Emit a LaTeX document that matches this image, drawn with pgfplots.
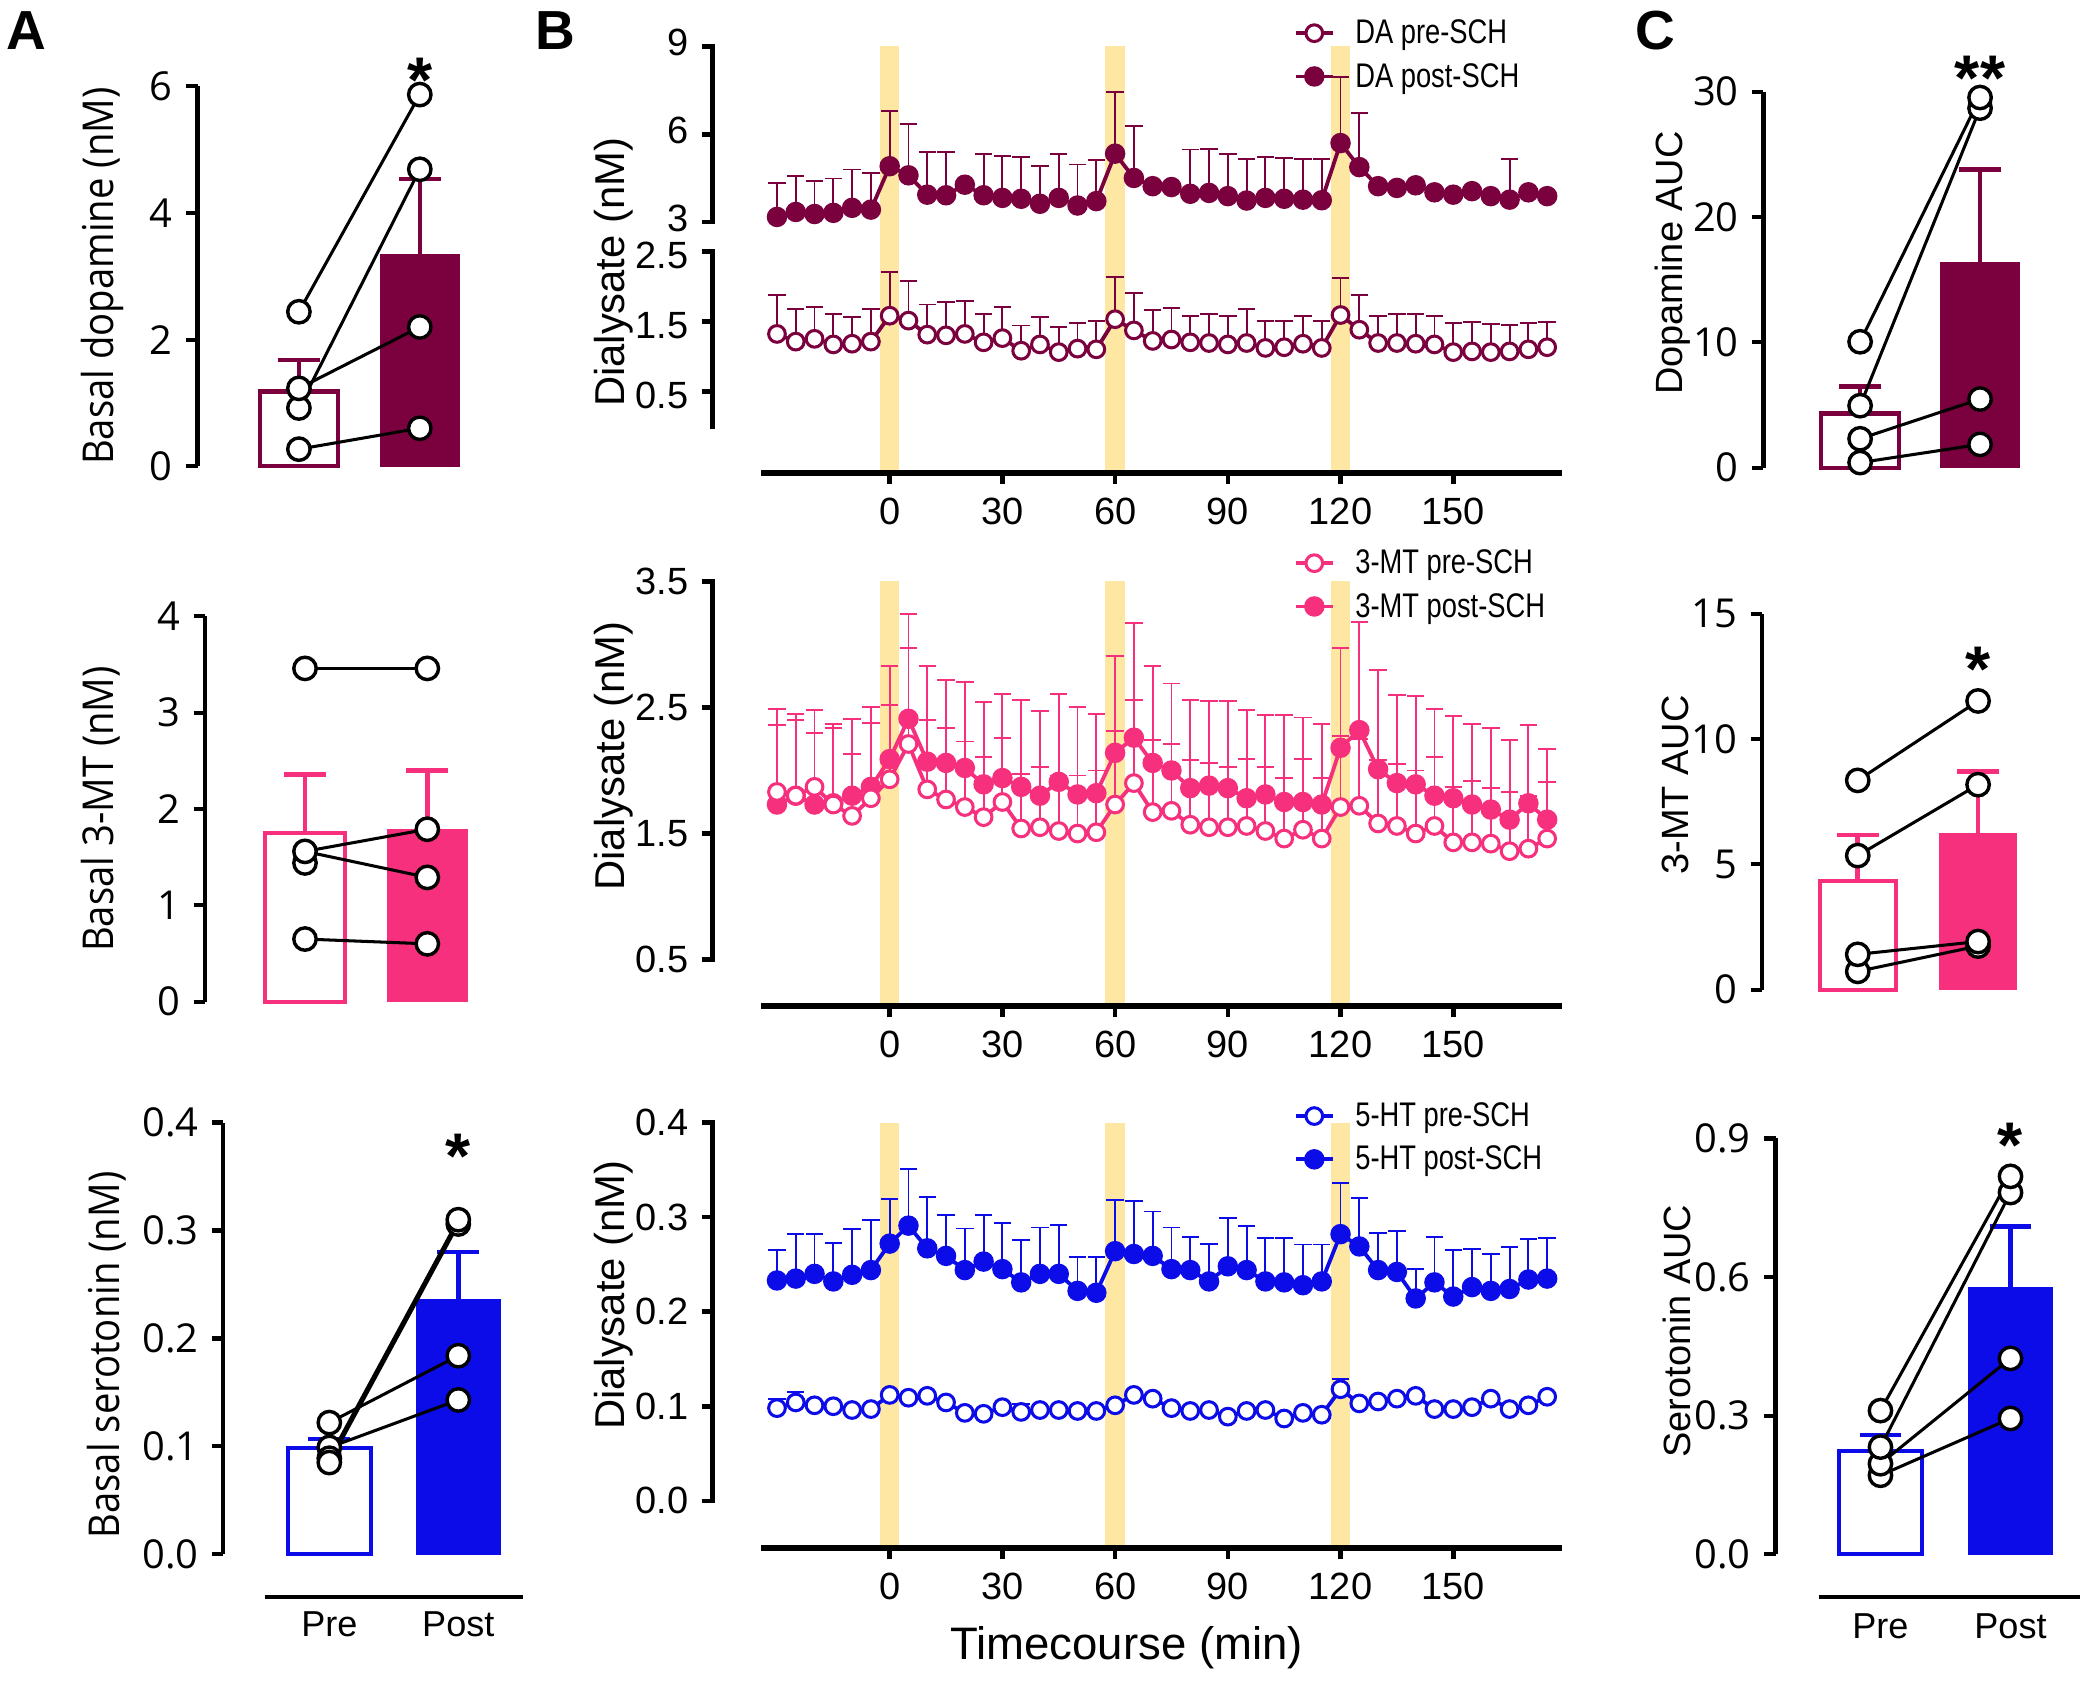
\documentclass[border=0pt]{standalone}
\usepackage{fontspec}
\setmainfont{Liberation Sans}
\newfontfamily\osans[FakeStretch=0.9]{Open Sans}
\newfontfamily\otick{Open Sans}
\newfontfamily\narrowfont[FakeStretch=0.8]{Liberation Sans}
\usepackage{pgfplots}
\usepackage{pgfplotstable}
\pgfplotsset{compat=1.18}

\definecolor{cda}{RGB}{123,0,62}
\definecolor{cmt}{RGB}{246,48,125}
\definecolor{cht}{RGB}{12,12,232}
\definecolor{band}{RGB}{254,231,163}

\pgfplotstableread{
t pre epre post epost
-30 1.32 0.55 3.18 1.16
-25 1.21 0.46 3.35 1.24
-20 1.25 0.45 3.28 1.12
-15 1.17 0.43 3.32 1.17
-10 1.18 0.38 3.49 1.31
-5 1.21 0.47 3.43 1.25
0 1.58 0.63 4.91 1.87
5 1.51 0.57 4.60 1.76
10 1.31 0.43 3.94 1.45
15 1.30 0.47 3.92 1.47
20 1.32 0.47 4.28 0
25 1.20 0.40 3.92 1.41
30 1.26 0.44 3.83 1.44
35 1.08 0.36 3.80 1.43
40 1.17 0.39 3.63 1.30
45 1.06 0.36 3.83 1.50
50 1.11 0.37 3.57 1.40
55 1.10 0.40 3.72 1.39
60 1.53 0.60 5.34 2.09
65 1.37 0.53 4.51 1.76
70 1.22 0.44 4.23 0
75 1.24 0.45 4.20 0
80 1.20 0.38 3.97 1.51
85 1.19 0.42 4.00 1.50
90 1.17 0.41 3.89 1.44
95 1.19 0.48 3.74 1.43
100 1.12 0.39 3.83 1.40
105 1.13 0.38 3.80 1.39
110 1.18 0.39 3.77 1.40
115 1.12 0.38 3.75 1.41
120 1.59 0.53 5.70 2.24
125 1.38 0.49 4.88 1.85
130 1.19 0.39 4.23 0
135 1.19 0.41 4.17 0
140 1.18 0.43 4.26 0
145 1.17 0.41 4.02 0
150 1.06 0.42 3.94 0
155 1.07 0.42 4.06 0
160 1.06 0.40 3.89 0
165 1.07 0.38 3.77 1.40
170 1.10 0.37 4.02 0
175 1.13 0.36 3.89 0
}\datDA

\pgfplotstableread{
t pre epre post epost
-30 1.83 0.53 1.73 0.76
-25 1.80 0.60 1.80 0.65
-20 1.87 0.43 1.73 0.75
-15 1.73 0.61 1.74 0.63
-10 1.64 0.49 1.80 0.61
-5 1.78 0.60 1.87 0.63
0 1.93 0.59 2.09 0.74
5 2.21 0.76 2.41 0.83
10 1.85 0.55 2.07 0.76
15 1.77 0.57 2.06 0.66
20 1.71 0.52 2.02 0.68
25 1.63 0.48 1.89 0.65
30 1.75 0.51 1.94 0.67
35 1.54 0.43 1.87 0.69
40 1.55 0.48 1.80 0.67
45 1.52 0.44 1.91 0.70
50 1.50 0.46 1.81 0.69
55 1.51 0.49 1.82 0.63
60 1.73 0.58 2.14 0.77
65 1.90 0.66 2.26 0.91
70 1.67 0.57 2.06 0.77
75 1.68 0.53 2.00 0.69
80 1.57 0.51 1.86 0.70
85 1.55 0.51 1.88 0.67
90 1.55 0.48 1.86 0.69
95 1.56 0.53 1.78 0.70
100 1.52 0.51 1.81 0.63
105 1.46 0.48 1.75 0.69
110 1.53 0.56 1.75 0.67
115 1.46 0.48 1.73 0.64
120 1.71 0.56 2.18 0.79
125 1.72 0.53 2.32 0.86
130 1.58 0.50 2.01 0.79
135 1.56 0.49 1.90 0.70
140 1.50 0.50 1.89 0.70
145 1.56 0.55 1.80 0.69
150 1.43 0.44 1.78 0.65
155 1.43 0.49 1.73 0.64
160 1.42 0.44 1.69 0.65
165 1.36 0.47 1.61 0.63
170 1.38 0.42 1.74 0.62
175 1.46 0.45 1.61 0.56
}\datMT

\pgfplotstableread{
t pre epre post epost
-30 0.098 0.010 0.233 0.032
-25 0.104 0.011 0.235 0.047
-20 0.101 0 0.240 0.042
-15 0.100 0 0.232 0.041
-10 0.096 0 0.239 0.048
-5 0.097 0 0.244 0.053
0 0.112 0 0.272 0.047
5 0.109 0 0.291 0.060
10 0.111 0 0.267 0.054
15 0.104 0 0.259 0.043
20 0.093 0 0.244 0.044
25 0.092 0 0.253 0.049
30 0.099 0 0.245 0.049
35 0.094 0.008 0.231 0.045
40 0.096 0 0.240 0.049
45 0.096 0 0.240 0.052
50 0.095 0 0.222 0.036
55 0.095 0 0.220 0.038
60 0.101 0 0.264 0.054
65 0.112 0 0.261 0.056
70 0.108 0 0.259 0.047
75 0.098 0 0.245 0.044
80 0.095 0 0.244 0.035
85 0.096 0 0.232 0.040
90 0.089 0 0.248 0.051
95 0.095 0 0.244 0.047
100 0.096 0 0.232 0.046
105 0.087 0 0.231 0.047
110 0.093 0 0.228 0.043
115 0.091 0 0.232 0.039
120 0.118 0.011 0.282 0.054
125 0.103 0 0.269 0.051
130 0.105 0 0.244 0.039
135 0.108 0 0.242 0.043
140 0.111 0 0.214 0.031
145 0.097 0 0.231 0.048
150 0.097 0 0.216 0.049
155 0.099 0 0.226 0.040
160 0.108 0 0.222 0.039
165 0.097 0 0.224 0.044
170 0.101 0 0.234 0.043
175 0.110 0 0.235 0.043
}\datHT

\pgfplotsset{
  bpan/.style={scale only axis, clip=false, width=224.2pt, xmin=-47.1, xmax=179.4,
    axis line style={draw=none}, xtick pos=left, ytick pos=left, tick align=outside,
    major tick length=2.9pt, tick style={line width=1.2pt, black},
    xtick={0,30,60,90,120,150},
    tick label style={font=\fontsize{10}{10}\selectfont},
    yticklabel style={inner ysep=0pt},
    /pgf/number format/assume math mode=true,
    legend image code/.code={\draw[mark repeat=2,mark phase=2,##1] plot coordinates {(0pt,0pt) (4.8pt,0pt) (9.6pt,0pt)};},
    legend style={draw=none, fill=none, anchor=north west, inner sep=0pt, row sep=3.2pt,
      /tikz/column sep=5pt, font=\narrowfont\fontsize{9}{9}\selectfont,
      nodes={inner sep=0.5pt, text height=6.4pt, text depth=0.8pt}},
    legend cell align=left},
  postS/.style={#1, line width=1pt, mark=*, mark size=2.5pt, mark options={solid, fill=#1, draw=#1, line width=0.4pt}},
  preS/.style={#1, line width=1pt, mark=*, mark size=2.2pt, mark options={solid, fill=white, draw=#1, line width=0.8pt}},
  ebar/.style={error bars/y dir=plus, error bars/y explicit, error bars/error bar style={line width=0.5pt},
    error bars/error mark options={rotate=90, mark size=2.3pt, line width=0.5pt}},
  barpan/.style={scale only axis, clip=false, axis y line*=left, axis x line=none,
    axis line style={line width=1.1pt}, tick align=outside, major tick length=3pt,
    tick style={line width=1.1pt, black}, xtick=\empty,
    yticklabel style={font=\otick\fontsize{10.5}{10.5}\selectfont, inner ysep=0pt},
    /pgf/number format/assume math mode=true},
  barerr/.style={error bars/y dir=plus, error bars/y explicit, error bars/error bar style={line width=1.2pt, #1},
    error bars/error mark options={rotate=90, mark size=5.5pt, line width=1.2pt, #1}},
  pline/.style={black, line width=0.8pt, no markers},
  dots/.style={only marks, mark=*, mark size=2.95pt, mark options={fill=white, draw=black, line width=0.9pt}},
}
\tikzset{star/.style={font=\fontsize{17}{17}\selectfont\bfseries, anchor=base, yshift=-9.8pt, inner sep=0pt}}

\begin{document}
\begin{tikzpicture}

% ================= Panel B top (lower part: pre) =================
\begin{axis}[bpan, at={(536.5*0.35pt,908.7*0.35pt)}, anchor=south west, height=58.49pt,
  ymin=-0.671, ymax=2.5, ytick={0.5,1.5,2.5}, yticklabels={0.5,1.5,2.5},
  yticklabel style={yshift=-1.1pt}]
\fill[band] (axis cs:-2.6,-0.671) rectangle (axis cs:2.6,5.428);
\fill[band] (axis cs:57.4,-0.671) rectangle (axis cs:62.6,5.428);
\fill[band] (axis cs:117.4,-0.671) rectangle (axis cs:122.6,5.428);
\draw[line width=1.2pt, line cap=rect] (axis cs:-47.1,0) -- (axis cs:-47.1,2.5);
\draw[line width=1.6pt] (axis cs:-34.3,-0.671) -- (axis cs:178.9,-0.671);
\addplot[preS=cda, ebar] table[x=t, y=pre, y error=epre] {\datDA};
\end{axis}
% ================= Panel B top (upper part: post) =================
\begin{axis}[bpan, at={(536.5*0.35pt,1097.7*0.35pt)}, anchor=south west, height=46.34pt,
  ymin=3, ymax=9, ytick={3,6,9}, xtick=\empty, yticklabel style={yshift=1.1pt},
  legend style={at={(0.6824,1.1677)}}]
\draw[line width=1.2pt, line cap=rect] (axis cs:-47.1,3) -- (axis cs:-47.1,9);
\addlegendimage{preS=cda}
\addlegendentry{DA pre-SCH}
\addlegendimage{postS=cda}
\addlegendentry{DA post-SCH}
\addplot[postS=cda, forget plot, ebar] table[x=t, y=post, y error=epost] {\datDA};
\end{axis}

% ================= Panel B middle =================
\begin{axis}[bpan, at={(536.5*0.35pt,507.4*0.35pt)}, anchor=south west, height=112pt,
  ymin=0.129, ymax=3.5, ytick={0.5,1.5,2.5,3.5}, yticklabels={0.5,1.5,2.5,3.5},
  legend style={at={(0.6824,1.081)}}]
\fill[band] (axis cs:-2.6,0.129) rectangle (axis cs:2.6,3.5);
\fill[band] (axis cs:57.4,0.129) rectangle (axis cs:62.6,3.5);
\fill[band] (axis cs:117.4,0.129) rectangle (axis cs:122.6,3.5);
\draw[line width=1.2pt, line cap=rect] (axis cs:-47.1,0.5) -- (axis cs:-47.1,3.5);
\draw[line width=1.6pt] (axis cs:-34.3,0.129) -- (axis cs:178.9,0.129);
\addlegendimage{preS=cmt}
\addlegendentry{3-MT pre-SCH}
\addlegendimage{postS=cmt}
\addlegendentry{3-MT post-SCH}
\addplot[postS=cmt, forget plot, ebar] table[x=t, y=post, y error=epost] {\datMT};
\addplot[preS=cmt, forget plot, ebar] table[x=t, y=pre, y error=epre] {\datMT};
\end{axis}

% ================= Panel B bottom =================
\begin{axis}[bpan, at={(536.5*0.35pt,99.4*0.35pt)}, anchor=south west, height=112.2pt,
  ymin=-0.0504, ymax=0.4, ytick={0,0.1,0.2,0.3,0.4}, yticklabels={0.0,0.1,0.2,0.3,0.4},
  legend style={at={(0.6824,1.0536)}}]
\fill[band] (axis cs:-2.6,-0.0504) rectangle (axis cs:2.6,0.4);
\fill[band] (axis cs:57.4,-0.0504) rectangle (axis cs:62.6,0.4);
\fill[band] (axis cs:117.4,-0.0504) rectangle (axis cs:122.6,0.4);
\draw[line width=1.2pt, line cap=rect] (axis cs:-47.1,0) -- (axis cs:-47.1,0.4);
\draw[line width=1.6pt] (axis cs:-34.3,-0.0504) -- (axis cs:178.9,-0.0504);
\addlegendimage{preS=cht}
\addlegendentry{5-HT pre-SCH}
\addlegendimage{postS=cht}
\addlegendentry{5-HT post-SCH}
\addplot[postS=cht, forget plot, ebar] table[x=t, y=post, y error=epost] {\datHT};
\addplot[preS=cht, forget plot, ebar] table[x=t, y=pre, y error=epre] {\datHT};
\end{axis}

% ================= Panel A top =================
\begin{axis}[barpan, at={(148.7*0.35pt,914*0.35pt)}, anchor=south west, width=74.48pt, height=100.1pt,
  xmin=0.1615, xmax=2.5, ymin=0, ymax=6, ytick={0,2,4,6}]
\addplot[ybar, bar width=0.648, bar shift=0pt, draw=cda, fill=white, line width=1.1pt, barerr=cda] coordinates {(1,1.18) +- (0,0.50)};
\addplot[ybar, bar width=0.648, bar shift=0pt, draw=cda, fill=cda, barerr=cda] coordinates {(2,3.34) +- (0,1.20)};
\addplot[pline] coordinates {(1,2.44) (2,5.87)};
\addplot[pline] coordinates {(1,0.92) (2,4.69)};
\addplot[pline] coordinates {(1,1.23) (2,2.20)};
\addplot[pline] coordinates {(1,0.27) (2,0.60)};
\addplot[dots] coordinates {(1,2.44) (1,0.92) (1,1.23) (1,0.27) (2,5.87) (2,4.69) (2,2.20) (2,0.60)};
\node[star] at (axis cs:2,6.34) {*};
\end{axis}

% ================= Panel A middle =================
\begin{axis}[barpan, at={(154.3*0.35pt,511*0.35pt)}, anchor=south west, width=74.7pt, height=101.5pt,
  xmin=0.1824, xmax=2.5, ymin=0, ymax=4, ytick={0,1,2,3,4}]
\addplot[ybar, bar width=0.654, bar shift=0pt, draw=cmt, fill=white, line width=1.1pt, barerr=cmt] coordinates {(1,1.75) +- (0,0.61)};
\addplot[ybar, bar width=0.654, bar shift=0pt, draw=cmt, fill=cmt, barerr=cmt] coordinates {(2,1.78) +- (0,0.62)};
\addplot[pline] coordinates {(1,3.46) (2,3.46)};
\addplot[pline] coordinates {(1,1.56) (2,1.79)};
\addplot[pline] coordinates {(1,1.56) (2,1.29)};
\addplot[pline] coordinates {(1,0.65) (2,0.60)};
\addplot[dots] coordinates {(1,3.46) (1,1.44) (1,1.56) (1,0.65) (2,3.46) (2,1.79) (2,1.29) (2,0.60)};
\end{axis}

% ================= Panel A bottom =================
\begin{axis}[barpan, at={(168.1*0.35pt,95*0.35pt)}, anchor=south west, width=80.6pt, height=113.75pt,
  xmin=0.178, xmax=2.55, ymin=0, ymax=0.4, ytick={0,0.1,0.2,0.3,0.4}, yticklabels={0.0,0.1,0.2,0.3,0.4}]
\addplot[ybar, bar width=0.646, bar shift=0pt, draw=cht, fill=white, line width=1.1pt, barerr=cht] coordinates {(1,0.0986) +- (0,0.0084)};
\addplot[ybar, bar width=0.646, bar shift=0pt, draw=cht, fill=cht, barerr=cht] coordinates {(2,0.236) +- (0,0.044)};
\addplot[pline] coordinates {(1,0.122) (2,0.184)};
\addplot[pline] coordinates {(1,0.099) (2,0.143)};
\addplot[pline] coordinates {(1,0.089) (2,0.310)};
\addplot[pline] coordinates {(1,0.085) (2,0.306)};
\addplot[dots] coordinates {(1,0.122) (1,0.099) (1,0.089) (1,0.085) (2,0.306) (2,0.310) (2,0.184) (2,0.143)};
\node[star] at (axis cs:2,0.383) {*};
\draw[line width=1.2pt] (axis cs:0.50,-0.0394) -- (axis cs:2.505,-0.0394);
\node[font=\fontsize{9.5}{9.5}\selectfont] at (axis cs:1,-0.0652) {Pre};
\node[font=\fontsize{9.5}{9.5}\selectfont] at (axis cs:2,-0.0652) {Post};
\end{axis}

% ================= Panel C top =================
\begin{axis}[barpan, at={(1327.4*0.35pt,913*0.35pt)}, anchor=south west, width=74.46pt, height=99.05pt,
  xmin=0.194, xmax=2.55, ymin=0, ymax=30, ytick={0,10,20,30}]
\addplot[ybar, bar width=0.653, bar shift=0pt, draw=cda, fill=white, line width=1.1pt, barerr=cda] coordinates {(1,4.31) +- (0,2.17)};
\addplot[ybar, bar width=0.653, bar shift=0pt, draw=cda, fill=cda, barerr=cda] coordinates {(2,16.31) +- (0,7.48)};
\addplot[pline] coordinates {(1,10.04) (2,29.53)};
\addplot[pline] coordinates {(1,4.94) (2,28.68)};
\addplot[pline] coordinates {(1,2.30) (2,5.47)};
\addplot[pline] coordinates {(1,0.40) (2,1.85)};
\addplot[dots] coordinates {(1,10.04) (1,4.94) (1,2.30) (1,0.40) (2,28.68) (2,29.53) (2,5.47) (2,1.85)};
\node[star] at (axis cs:2,32.3) {**};
\end{axis}

% ================= Panel C middle =================
\begin{axis}[barpan, at={(1326.4*0.35pt,520*0.35pt)}, anchor=south west, width=74.35pt, height=99.05pt,
  xmin=0.2053, xmax=2.55, ymin=0, ymax=15, ytick={0,5,10,15}]
\addplot[ybar, bar width=0.63, bar shift=0pt, draw=cmt, fill=white, line width=1.1pt, barerr=cmt] coordinates {(1,4.32) +- (0,1.85)};
\addplot[ybar, bar width=0.63, bar shift=0pt, draw=cmt, fill=cmt, barerr=cmt] coordinates {(2,6.24) +- (0,2.47)};
\addplot[pline] coordinates {(1,8.35) (2,11.52)};
\addplot[pline] coordinates {(1,5.35) (2,8.18)};
\addplot[pline] coordinates {(1,1.41) (2,1.92)};
\addplot[pline] coordinates {(1,0.73) (2,1.74)};
\addplot[dots] coordinates {(1,8.35) (1,5.35) (1,0.73) (1,1.41) (2,11.52) (2,8.18) (2,1.74) (2,1.92)};
\node[star] at (axis cs:2,13.37) {*};
\end{axis}

% ================= Panel C bottom =================
\begin{axis}[barpan, at={(1336.5*0.35pt,95*0.35pt)}, anchor=south west, width=80.76pt, height=109.55pt,
  xmin=0.193, xmax=2.55, ymin=0, ymax=0.9, ytick={0,0.3,0.6,0.9}, yticklabels={0.0,0.3,0.6,0.9}]
\addplot[ybar, bar width=0.64, bar shift=0pt, draw=cht, fill=white, line width=1.1pt, barerr=cht] coordinates {(1,0.224) +- (0,0.034)};
\addplot[ybar, bar width=0.64, bar shift=0pt, draw=cht, fill=cht, barerr=cht] coordinates {(2,0.577) +- (0,0.132)};
\addplot[pline] coordinates {(1,0.311) (2,0.818)};
\addplot[pline] coordinates {(1,0.232) (2,0.783)};
\addplot[pline] coordinates {(1,0.196) (2,0.424)};
\addplot[pline] coordinates {(1,0.171) (2,0.294)};
\addplot[dots] coordinates {(1,0.171) (1,0.196) (1,0.311) (1,0.232) (2,0.783) (2,0.818) (2,0.424) (2,0.294)};
\node[star] at (axis cs:2,0.917) {*};
\draw[line width=1.2pt] (axis cs:0.525,-0.092) -- (axis cs:2.537,-0.092);
\node[font=\fontsize{9.5}{9.5}\selectfont] at (axis cs:1,-0.155) {Pre};
\node[font=\fontsize{9.5}{9.5}\selectfont] at (axis cs:2,-0.155) {Post};
\end{axis}

% ================= Labels =================
\node[rotate=90, font=\osans\fontsize{11.2}{11.2}\selectfont] at (77*0.35pt,1057*0.35pt) {Basal dopamine (nM)};
\node[rotate=90, font=\osans\fontsize{11.2}{11.2}\selectfont] at (76*0.35pt,656*0.35pt) {Basal 3-MT (nM)};
\node[rotate=90, font=\osans\fontsize{11.2}{11.2}\selectfont] at (80*0.35pt,245*0.35pt) {Basal serotonin (nM)};
\node[rotate=90, font=\fontsize{10}{10}\selectfont] at (1259*0.35pt,1067*0.35pt) {Dopamine AUC};
\node[rotate=90, font=\fontsize{10}{10}\selectfont] at (1261*0.35pt,674*0.35pt) {3-MT AUC};
\node[rotate=90, font=\fontsize{10}{10}\selectfont] at (1262*0.35pt,263*0.35pt) {Serotonin AUC};
\node[rotate=90, font=\fontsize{11}{11}\selectfont] at (462*0.35pt,1060*0.35pt) {Dialysate (nM)};
\node[rotate=90, font=\fontsize{11}{11}\selectfont] at (462*0.35pt,696*0.35pt) {Dialysate (nM)};
\node[rotate=90, font=\fontsize{11}{11}\selectfont] at (462*0.35pt,290*0.35pt) {Dialysate (nM)};
\node[font=\fontsize{12}{12}\selectfont] at (848*0.35pt,25*0.35pt) {Timecourse (min)};
\node[font=\fontsize{14.5}{14.5}\selectfont\bfseries] at (19.5*0.35pt,1242*0.35pt) {A};
\node[font=\fontsize{14.5}{14.5}\selectfont\bfseries] at (418*0.35pt,1242*0.35pt) {B};
\node[font=\fontsize{14.5}{14.5}\selectfont\bfseries] at (1246*0.35pt,1242*0.35pt) {C};

\pgfresetboundingbox
\path[use as bounding box] (0,0) rectangle (548.8pt,442.75pt);
\end{tikzpicture}
\end{document}
